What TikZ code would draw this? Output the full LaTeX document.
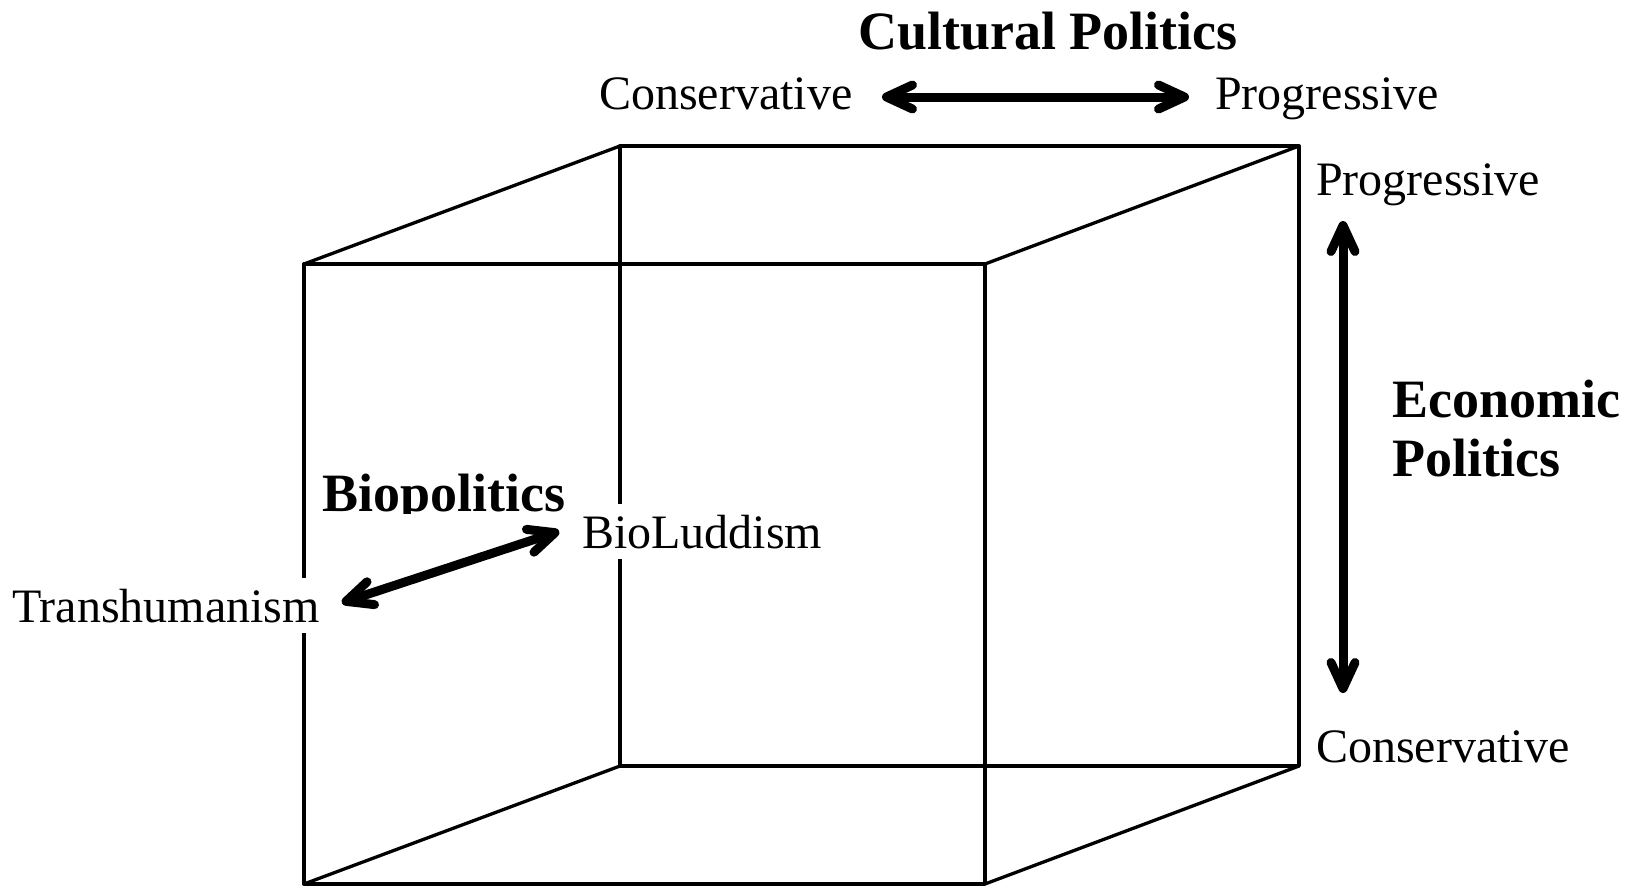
\documentclass[tikz,border=0pt]{standalone}
\usepackage{fontspec}
\setmainfont{Liberation Serif}
\usetikzlibrary{arrows.meta}
\begin{document}
\begin{tikzpicture}[x=1pt,y=-1pt,
  edge/.style={line width=3.3pt, line cap=round, line join=round},
  axis/.style={line width=9pt, {Straight Barb[length=26pt,width=24pt,round]}-{Straight Barb[length=26pt,width=24pt,round]}, shorten <=4pt, shorten >=4pt},
  lbl/.style={inner sep=0pt, font=\fontsize{48}{58}\selectfont, anchor=base west},
  mask/.style={fill=white, text height=44pt, text depth=11pt},
  ttl/.style={inner sep=0pt, font=\fontsize{54}{59}\selectfont\bfseries}]
\useasboundingbox (0,0) rectangle (1631,887);
% cube corners
\coordinate (f1) at (304,264);
\coordinate (f2) at (985,264);
\coordinate (f3) at (985,884);
\coordinate (f4) at (304,884);
\coordinate (b1) at (620,146);
\coordinate (b2) at (1299,146);
\coordinate (b3) at (1299,766);
\coordinate (b4) at (620,766);
\draw[edge] (b1) -- (b2) -- (b3) -- (b4) -- cycle;
\draw[edge] (f1) -- (f2) -- (f3) -- (f4) -- cycle;
\draw[edge] (f1) -- (b1);
\draw[edge] (f2) -- (b2);
\draw[edge] (f3) -- (b3);
\draw[edge] (f4) -- (b4);
% cultural politics
\node[ttl, anchor=base] (cult) at (1048,49) {Cultural Politics};
\node[lbl] (cc) at (599,109) {Conservative};
\node[lbl] (cp) at (1215,109) {Progressive};
\coordinate (ca) at (878,97);
\coordinate (cb) at (1193,97);
\draw[axis] (ca) -- (cb);
% economic politics
\node[lbl] (ep) at (1316,195) {Progressive};
\node[lbl] (ec) at (1316,762) {Conservative};
\node[ttl, anchor=north west, align=left] (econ) at (1392,380) {Economic\\Politics};
\coordinate (ea) at (1343,217);
\coordinate (eb) at (1343,697);
\draw[axis] (ea) -- (eb);
% biopolitics
\begin{scope}
\clip (300,440) rectangle (600,513);
\node[ttl, anchor=base west] (bio) at (322,511) {Biopolitics};
\end{scope}
\node[lbl, mask] (bl) at (582,548) {BioLuddism};
\node[lbl, mask] (th) at (12,622) {Transhumanism};
\coordinate (ba) at (338,604);
\coordinate (bb) at (563,530);
\draw[axis] (ba) -- (bb);
\end{tikzpicture}
\end{document}
